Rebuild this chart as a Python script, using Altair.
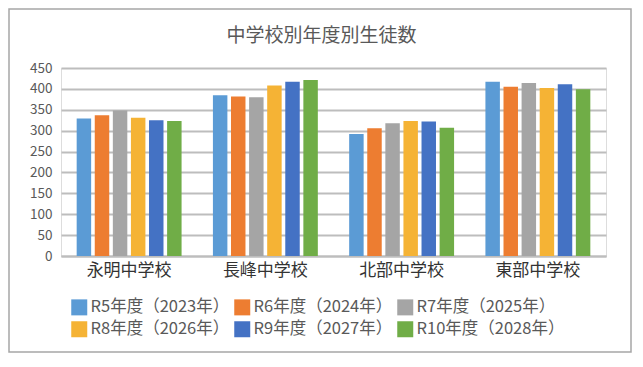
import altair as alt
import pandas as pd

schools = ["永明中学校", "長峰中学校", "北部中学校", "東部中学校"]
years = ["R5年度（2023年）", "R6年度（2024年）", "R7年度（2025年）",
         "R8年度（2026年）", "R9年度（2027年）", "R10年度（2028年）"]
colors = ["#5B9BD5", "#ED7D31", "#A5A5A5", "#F5B335", "#4472C4", "#70AD47"]

r5 = [329, 385, 292, 417]
r6 = [337, 382, 306, 405]
r7 = [348, 380, 318, 414]
r8 = [331, 408, 323, 402]
r9 = [325, 417, 322, 411]
r10 = [323, 421, 307, 399]
y_ticks = [0, 50, 100, 150, 200, 250, 300, 350, 400, 450]

series = [r5, r6, r7, r8, r9, r10]
rows = []
for yr, vals in zip(years, series):
    for s, v in zip(schools, vals):
        rows.append({"school": s, "year": yr, "value": v})
df = pd.DataFrame(rows)

FONT = "Noto Sans CJK JP"
GRID = "#BDBDBD"

bars = alt.Chart(df).mark_bar().encode(
    x=alt.X("school:N", sort=schools, title=None,
            scale=alt.Scale(paddingInner=0.23, paddingOuter=0.115),
            axis=alt.Axis(labelAngle=0, labelFontSize=17, labelColor="#333333",
                          labelFont=FONT, labelPadding=6, ticks=False,
                          domain=True, domainColor=GRID, domainWidth=2)),
    xOffset=alt.XOffset("year:N", sort=years,
                        scale=alt.Scale(paddingInner=0.2)),
    y=alt.Y("value:Q", title=None,
            scale=alt.Scale(domain=[0, 450], nice=False),
            axis=alt.Axis(values=y_ticks, labelFontSize=13.5, labelColor="#595959",
                          labelFont=FONT, labelPadding=9, ticks=False, domain=False,
                          grid=True, gridColor=GRID, gridWidth=2)),
    color=alt.Color("year:N", sort=years,
                    scale=alt.Scale(domain=years, range=colors),
                    legend=alt.Legend(title=None, orient="none", legendX=10, legendY=231,
                                      direction="horizontal",
                                      columns=3, symbolType="square", symbolSize=256,
                                      symbolStrokeWidth=0, labelFontSize=16.5,
                                      labelColor="#595959", labelFont=FONT,
                                      labelOffset=3, columnPadding=4, rowPadding=5,
                                      padding=0, labelLimit=300)),
)

one = pd.DataFrame({"a": [0]})
border = alt.Chart(one).mark_rect(fillOpacity=0, stroke="#A6A6A6", strokeWidth=1.5).encode(
    x=alt.value(-52), x2=alt.value(570), y=alt.value(-59), y2=alt.value(284)
)

title = alt.Chart(one).mark_text(
    text="中学校別年度別生徒数", fontSize=19, color="#595959", font=FONT,
    align="center", baseline="middle"
).encode(x=alt.value(260.5), y=alt.value(-32.5))

chart = alt.layer(border, bars, title).properties(
    width=545, height=188, padding=0
).configure_view(stroke=None).configure(font=FONT, background="white")

chart.save("out.html", embed_options={"renderer": "svg", "actions": False})
